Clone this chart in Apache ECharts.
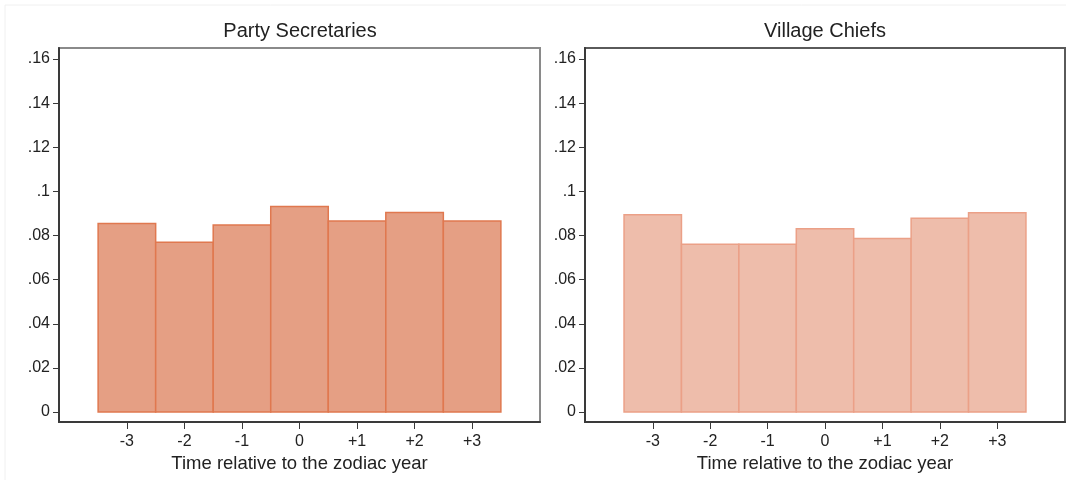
<!DOCTYPE html>
<html>
<head>
<meta charset="utf-8">
<script src="https://cdn.jsdelivr.net/npm/echarts@6/dist/echarts.min.js"></script>
<style>
html, body { margin: 0; padding: 0; background: #fff; }
#chart { width: 1066px; height: 480px; }
</style>
</head>
<body>
<div id="chart"></div>
<script>
// bins (time relative to zodiac year) and density of each bin
var bins = [-3, -2, -1, 0, 1, 2, 3];
var partySecretaries = [0.0855, 0.0770, 0.0848, 0.0932, 0.0866, 0.0904, 0.0866];
var villageChiefs = [0.0894, 0.0761, 0.0761, 0.0831, 0.0787, 0.0878, 0.0903];
var yTicks = [0, 0.02, 0.04, 0.06, 0.08, 0.1, 0.12, 0.14, 0.16];
var panelTitles = ['Party Secretaries', 'Village Chiefs'];

var font = 'Liberation Sans, Arial, sans-serif';

function yFmt(v) {
    if (v === 0) return '0';
    return String(v).replace(/^0/, '');
}
function xFmt(v) {
    return v > 0 ? '+' + v : String(v);
}

// histogram bars, one unit wide around each bin
function histItem(fill, stroke) {
    return function (params, api) {
        var x = api.value(0);
        var p0 = api.coord([x - 0.5, api.value(1)]);
        var p1 = api.coord([x + 0.5, 0]);
        return {
            type: 'rect',
            shape: { x: p0[0], y: p0[1], width: p1[0] - p0[0], height: p1[1] - p0[1] },
            style: { fill: fill, stroke: stroke, lineWidth: 1.5 }
        };
    };
}

function xAxisFor(i) {
    return {
        type: 'value', gridIndex: i, min: -4.18, max: 4.18, position: 'bottom',
        name: 'Time relative to the zodiac year',
        nameLocation: 'middle', nameGap: 26,
        nameTextStyle: { fontFamily: font, fontSize: 18.5, color: '#222' },
        axisLine: { show: true, onZero: false, lineStyle: { color: '#3a3a3a', width: 2 } },
        axisTick: { show: true, length: 7, customValues: bins, lineStyle: { color: '#3a3a3a', width: 1 } },
        axisLabel: { customValues: bins, formatter: xFmt, margin: 12, fontFamily: font, fontSize: 16, color: '#222' },
        splitLine: { show: false }
    };
}
function yAxisFor(i) {
    return {
        type: 'value', gridIndex: i, min: -0.0045, max: 0.165, position: 'left',
        axisLine: { show: true, onZero: false, lineStyle: { color: '#3a3a3a', width: 2 } },
        axisTick: { show: true, length: 6, customValues: yTicks, lineStyle: { color: '#3a3a3a', width: 1 } },
        axisLabel: { customValues: yTicks, formatter: yFmt, margin: 9, fontFamily: font, fontSize: 16, color: '#222' },
        splitLine: { show: false }
    };
}

var chart = echarts.init(document.getElementById('chart'));
var option = {
    animation: false,
    title: [{
        text: panelTitles[0], left: 300, top: 21, textAlign: 'center', padding: 0,
        textStyle: { fontFamily: font, fontSize: 20, fontWeight: 'normal', color: '#222' }
    }, {
        text: panelTitles[1], left: 825, top: 21, textAlign: 'center', padding: 0,
        textStyle: { fontFamily: font, fontSize: 20, fontWeight: 'normal', color: '#222' }
    }],
    graphic: [{
        type: 'rect', shape: { x: 5, y: 5, width: 1080, height: 500 },
        style: { fill: 'none', stroke: '#f0f0f0', lineWidth: 1 }, silent: true
    }],
    grid: [
        { left: 59, top: 48, width: 481, height: 374, show: true, borderColor: '#8a8a8a', borderWidth: 2, backgroundColor: '#fff' },
        { left: 585, top: 48, width: 480, height: 374, show: true, borderColor: '#5a5a5a', borderWidth: 2, backgroundColor: '#fff' }
    ],
    xAxis: [xAxisFor(0), xAxisFor(1)],
    yAxis: [yAxisFor(0), yAxisFor(1)],
    series: [{
        type: 'custom', xAxisIndex: 0, yAxisIndex: 0,
        renderItem: histItem('#e59f84', '#e0784f'),
        data: bins.map(function (b, k) { return [b, partySecretaries[k]]; })
    }, {
        type: 'custom', xAxisIndex: 1, yAxisIndex: 1,
        renderItem: histItem('#eebdab', '#eba087'),
        data: bins.map(function (b, k) { return [b, villageChiefs[k]]; })
    }]
};
chart.setOption(option);
window.addEventListener('resize', function () {
    chart.resize();
});
</script>
</body>
</html>
